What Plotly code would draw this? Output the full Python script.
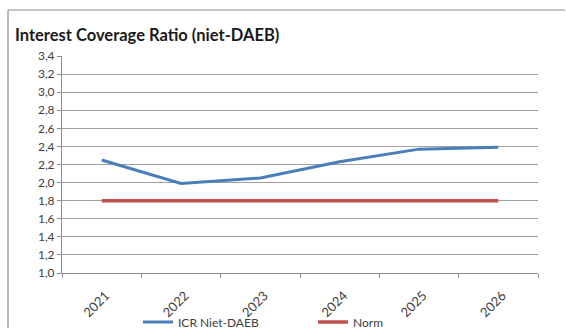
import plotly.graph_objects as go

years = ["2021", "2022", "2023", "2024", "2025", "2026"]
icr_niet_daeb = [2.25, 1.99, 2.05, 2.23, 2.37, 2.39]
norm = [1.8, 1.8, 1.8, 1.8, 1.8, 1.8]
y_ticks = [1.0, 1.2, 1.4, 1.6, 1.8, 2.0, 2.2, 2.4, 2.6, 2.8, 3.0, 3.2, 3.4]

W, H = 566, 329
L, R, T, B = 62, 28, 56, 56
pw, ph = W - L - R, H - T - B


def px_x(px):
    return (px - L) / pw


def px_y(py):
    return (H - B - py) / ph


fig = go.Figure()
fig.add_trace(go.Scatter(x=years, y=icr_niet_daeb, mode="lines", name="ICR Niet-DAEB",
                         line=dict(color="#4A7EBB", width=3)))
fig.add_trace(go.Scatter(x=years, y=norm, mode="lines", name="Norm",
                         line=dict(color="#C0504D", width=3.5)))

# outer chart frame: left and top edges
frame = dict(color="#8c8c8c", width=1.2)
fig.add_shape(type="line", xref="paper", yref="paper",
              x0=px_x(8), x1=px_x(8), y0=px_y(H - 1), y1=px_y(10), line=frame, layer="below")
fig.add_shape(type="line", xref="paper", yref="paper",
              x0=px_x(8), x1=px_x(W - 1), y0=px_y(10), y1=px_y(10), line=frame, layer="below")

fig.update_layout(
    width=W, height=H,
    margin=dict(l=L, r=R, t=T, b=B),
    paper_bgcolor="white", plot_bgcolor="white",
    separators=",.",
    font=dict(family="Lato, Carlito, 'Liberation Sans', sans-serif", size=12, color="#404040"),
    title=dict(text="<b>Interest Coverage Ratio (niet-DAEB)</b>", xref="container", yref="container",
               x=15 / W, xanchor="left", y=1 - 35 / H, yanchor="middle",
               font=dict(family="Lato, Carlito, sans-serif", size=16.5, color="#1a1a1a")),
    showlegend=True,
    legend=dict(orientation="h", xref="container", yref="container",
                x=138 / W, xanchor="left", y=1 - 322 / H, yanchor="middle",
                entrywidth=130, entrywidthmode="pixels", itemwidth=30,
                font=dict(size=12, color="#404040"), bgcolor="rgba(0,0,0,0)"),
    xaxis=dict(type="category", showgrid=False, showline=True, linecolor="#8c8c8c", linewidth=1,
               ticks="outside", tickson="boundaries", ticklen=4, tickcolor="#8c8c8c",
               tickangle=-45, tickfont=dict(size=13, color="#404040"),
               ticklabelstandoff=9, ticklabelshift=4, automargin=False,
               range=[-0.5, 5.5]),
    yaxis=dict(range=[1.0, 3.4], tickvals=y_ticks, tickformat=".1f",
               showgrid=True, gridcolor="#a0a0a0", gridwidth=1,
               showline=True, linecolor="#8c8c8c", linewidth=1,
               ticks="outside", ticklen=4, tickcolor="#8c8c8c", automargin=False,
               tickfont=dict(size=12, color="#404040"), zeroline=False),
)

fig.write_html(
    "out.html",
    config={"displayModeBar": False},
    post_script=(
        "document.documentElement.style.overflow='hidden';"
        "document.body.style.overflow='hidden';"
        "document.body.style.margin='0';"
    ),
)
